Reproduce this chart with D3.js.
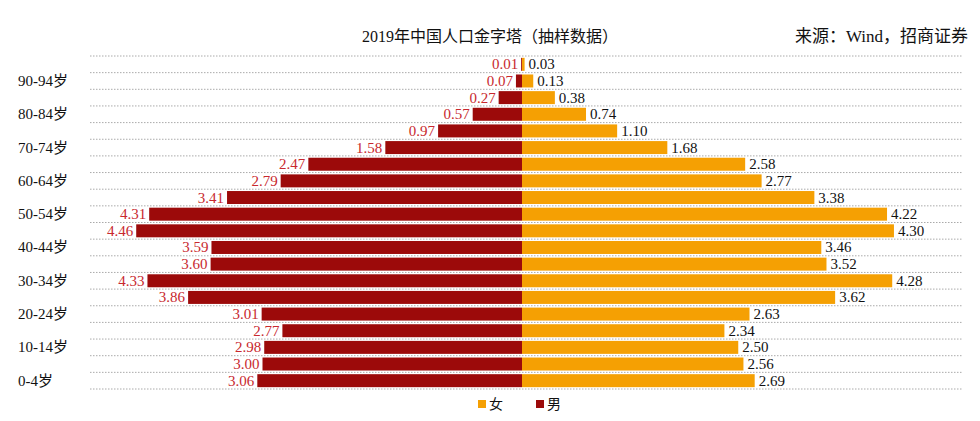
<!DOCTYPE html>
<html><head><meta charset="utf-8">
<script src="https://cdn.jsdelivr.net/npm/d3@7/dist/d3.min.js"></script>
<style>body{margin:0;background:#fff}svg{font-family:"Liberation Serif","Noto Sans CJK SC",serif}</style>
</head><body><svg id="c" width="980" height="421"></svg>
<script>
const ages=["0-4岁","5-9岁","10-14岁","15-19岁","20-24岁","25-29岁","30-34岁","35-39岁","40-44岁","45-49岁","50-54岁","55-59岁","60-64岁","65-69岁","70-74岁","75-79岁","80-84岁","85-89岁","90-94岁","95+岁"];
const male=[3.06,3.00,2.98,2.77,3.01,3.86,4.33,3.60,3.59,4.46,4.31,3.41,2.79,2.47,1.58,0.97,0.57,0.27,0.07,0.01];
const female=[2.69,2.56,2.50,2.34,2.63,3.62,4.28,3.52,3.46,4.30,4.22,3.38,2.77,2.58,1.68,1.10,0.74,0.38,0.13,0.03];
const svg=d3.select("#c");
const cx=522, k=86.5;
const xR=d3.scaleLinear().domain([0,5]).range([cx,cx+5*k]);
const xL=d3.scaleLinear().domain([0,5]).range([cx,cx-5*k]);
const y=d3.scaleBand().domain(ages.slice().reverse()).range([56,389]).paddingInner(0.22).paddingOuter(0.11);
const step=y.step();
for(let i=0;i<=20;i++){const yy=56+i*(333/20);
 svg.append("line").attr("x1",90).attr("x2",962).attr("y1",yy).attr("y2",yy).attr("stroke","#aaa").attr("stroke-dasharray","1.5,1.5").attr("stroke-width",1);}
ages.forEach((a,i)=>{
 const yy=y(a),h=y.bandwidth();
 svg.append("rect").attr("x",xL(male[i])).attr("y",yy).attr("width",cx-xL(male[i])).attr("height",h).attr("fill","#9c0a0a");
 svg.append("rect").attr("x",cx).attr("y",yy).attr("width",xR(female[i])-cx).attr("height",h).attr("fill","#f5a003");
 svg.append("text").attr("x",xL(male[i])-3).attr("y",yy+h/2+5).attr("text-anchor","end").attr("fill","#c8282e").attr("font-size",15).text(male[i].toFixed(2));
 svg.append("text").attr("x",xR(female[i])+4).attr("y",yy+h/2+5).attr("fill","#111").attr("font-size",15).text(female[i].toFixed(2));
 if(i%2===0) svg.append("text").attr("x",18).attr("y",yy+h/2+5).attr("font-size",15).attr("fill","#111").text(a);
});
svg.append("text").attr("x",490).attr("y",42).attr("text-anchor","middle").attr("font-size",16).attr("fill","#111").text("2019年中国人口金字塔（抽样数据）");
svg.append("text").attr("x",968).attr("y",42).attr("text-anchor","end").attr("font-size",17).attr("fill","#111").text("来源：Wind，招商证券");
svg.append("rect").attr("x",478).attr("y",400).attr("width",8).attr("height",8).attr("fill","#f5a003");
svg.append("text").attr("x",489).attr("y",409).attr("font-size",14).attr("fill","#111").text("女");
svg.append("rect").attr("x",536).attr("y",400).attr("width",8).attr("height",8).attr("fill","#9c0a0a");
svg.append("text").attr("x",547).attr("y",409).attr("font-size",14).attr("fill","#111").text("男");
</script></body></html>
